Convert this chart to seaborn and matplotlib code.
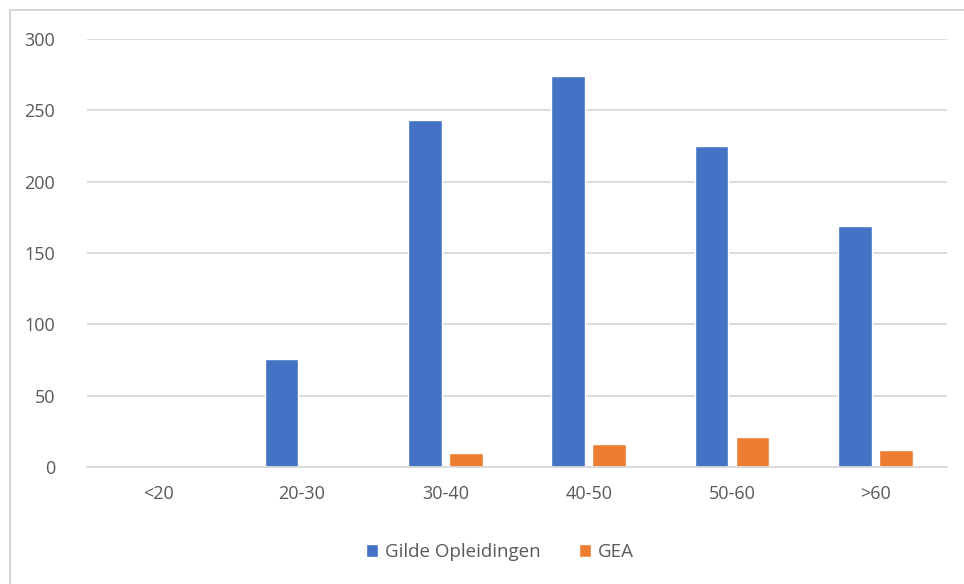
import matplotlib

matplotlib.use("Agg")

import matplotlib.pyplot as plt
import pandas as pd
import seaborn as sns
from matplotlib.patches import Rectangle

AGE_GROUPS = ["<20", "20-30", "30-40", "40-50", "50-60", ">60"]
GILDE = [0, 76, 243, 274, 225, 169]
GEA = [0, 0, 10, 16, 21, 12]
SERIES = ["Gilde Opleidingen", "GEA"]
COLORS = ["#4472C4", "#ED7D31"]
Y_TICKS = [0, 50, 100, 150, 200, 250, 300]

TEXT_COLOR = "#595959"
GRID_COLOR = "#D9D9D9"

data = pd.DataFrame(
    {
        "Leeftijd": AGE_GROUPS * 2,
        "Aantal": GILDE + GEA,
        "Reeks": [SERIES[0]] * len(AGE_GROUPS) + [SERIES[1]] * len(AGE_GROUPS),
    }
)

sns.set_theme(style="white")
plt.rcParams["font.family"] = ["Open Sans", "DejaVu Sans"]

fig = plt.figure(figsize=(9.64, 5.84), dpi=100)
ax = fig.add_axes([87 / 964, (584 - 467) / 584, (947 - 87) / 964, (467 - 39) / 584])

sns.barplot(
    data=data,
    x="Leeftijd",
    y="Aantal",
    hue="Reeks",
    order=AGE_GROUPS,
    hue_order=SERIES,
    palette=COLORS,
    width=0.57,
    gap=0.18,
    saturation=1,
    ax=ax,
)

ax.set_ylim(0, 300)
ax.set_yticks(Y_TICKS)
ax.set_xlim(-0.5, len(AGE_GROUPS) - 0.5)
ax.yaxis.grid(True, color=GRID_COLOR, linewidth=1.3)
ax.set_axisbelow(True)
for side in ["top", "right", "left"]:
    ax.spines[side].set_visible(False)
ax.spines["bottom"].set_color(GRID_COLOR)
ax.spines["bottom"].set_linewidth(1.3)
ax.tick_params(axis="both", length=0, labelsize=13, colors=TEXT_COLOR)
ax.tick_params(axis="y", pad=23)
ax.tick_params(axis="x", pad=13)
ax.set_xlabel("")
ax.set_ylabel("")

handles, labels = ax.get_legend_handles_labels()
ax.legend_.remove()
fig.legend(
    handles,
    labels,
    loc="center",
    bbox_to_anchor=(500 / 964, (584 - 552) / 584),
    ncol=2,
    frameon=False,
    fontsize=13.5,
    labelcolor=TEXT_COLOR,
    handlelength=0.65,
    handleheight=0.65,
    handletextpad=0.4,
    columnspacing=2.0,
)

fig.patches.append(
    Rectangle(
        (9.5 / 964, -0.05),
        1.1,
        (584 - 10) / 584 + 0.05,
        transform=fig.transFigure,
        fill=False,
        edgecolor="#D0D0D0",
        linewidth=1.2,
    )
)

fig.savefig("out.png", dpi=100)
